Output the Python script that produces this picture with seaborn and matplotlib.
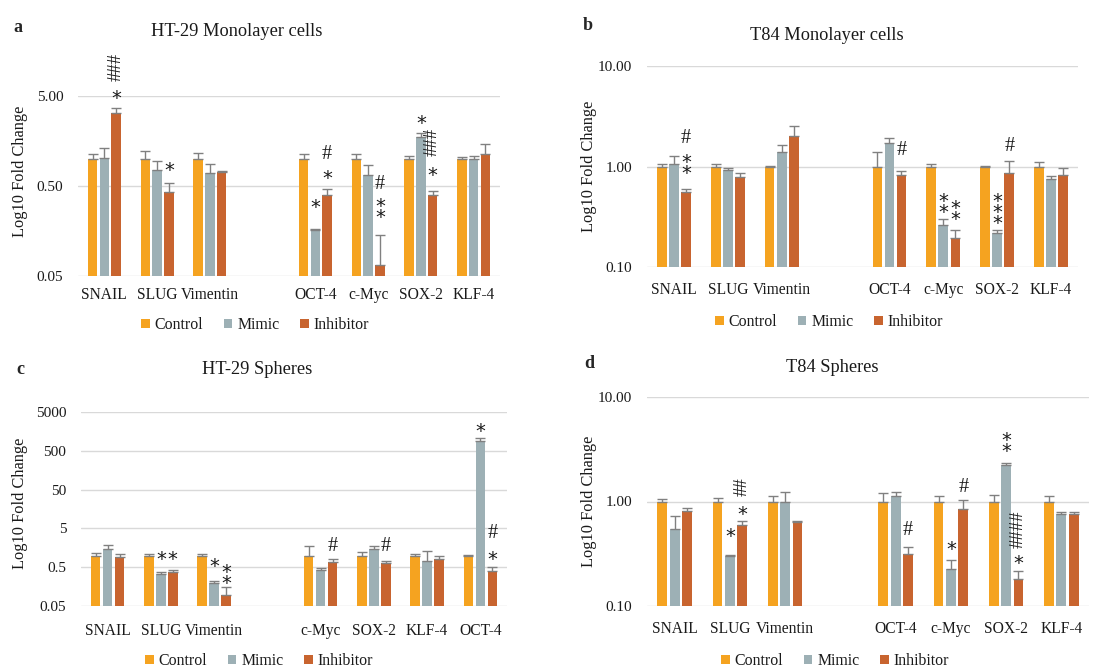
import numpy as np
import pandas as pd
import matplotlib
matplotlib.use("Agg")
import matplotlib.pyplot as plt
from matplotlib.ticker import FixedLocator, FixedFormatter, NullLocator
import seaborn as sns

GROUPS = ["Control", "Mimic", "Inhibitor"]
COLORS = ["#F5A320", "#9DB0B5", "#C8642F"]

# ---------------- Panel a: HT-29 Monolayer cells ----------------
A_GENES = ["SNAIL", "SLUG", "Vimentin", "OCT-4", "c-Myc", "SOX-2", "KLF-4"]
A_ORDER = ["SNAIL", "SLUG", "Vimentin", " ", "OCT-4", "c-Myc", "SOX-2", "KLF-4"]
A_CONTROL = [1.0, 1.0, 1.0, 1.0, 1.0, 1.0, 1.0]
A_MIMIC = [1.03, 0.75, 0.70, 0.162, 0.67, 1.75, 1.0]
A_INHIB = [3.27, 0.43, 0.72, 0.40, 0.067, 0.40, 1.14]
A_CONTROL_ERR = [0.12, 0.22, 0.17, 0.12, 0.12, 0.09, 0.06]
A_MIMIC_ERR = [0.30, 0.21, 0.17, 0.003, 0.18, 0.17, 0.08]
A_INHIB_ERR = [0.44, 0.11, 0.02, 0.06, 0.075, 0.036, 0.32]
A_ANNOT = [("SNAIL", "Inhibitor", "*", 5.36), ("SNAIL", "Inhibitor", "###", 10.6),
           ("SLUG", "Inhibitor", "*", 0.855),
           ("OCT-4", "Mimic", "*", 0.335), ("OCT-4", "Inhibitor", "*", 0.69),
           ("OCT-4", "Inhibitor", "#", 1.15),
           ("c-Myc", "Inhibitor", "#", 0.545), ("c-Myc", "Inhibitor", "**", 0.295),
           ("SOX-2", "Mimic", "*", 2.82), ("SOX-2", "Inhibitor", "###", 1.55),
           ("SOX-2", "Inhibitor", "*", 0.75)]

# ---------------- Panel b: T84 Monolayer cells ----------------
B_GENES = ["SNAIL", "SLUG", "Vimentin", "OCT-4", "c-Myc", "SOX-2", "KLF-4"]
B_ORDER = ["SNAIL", "SLUG", "Vimentin", " ", "OCT-4", "c-Myc", "SOX-2", "KLF-4"]
B_CONTROL = [1.0, 1.0, 1.0, 1.0, 1.0, 1.0, 1.0]
B_MIMIC = [1.05, 0.93, 1.38, 1.71, 0.263, 0.219, 0.75]
B_INHIB = [0.56, 0.78, 2.02, 0.83, 0.193, 0.87, 0.82]
B_CONTROL_ERR = [0.07, 0.07, 0.02, 0.41, 0.06, 0.01, 0.10]
B_MIMIC_ERR = [0.21, 0.03, 0.24, 0.22, 0.037, 0.014, 0.06]
B_INHIB_ERR = [0.04, 0.08, 0.51, 0.08, 0.042, 0.26, 0.14]
B_ANNOT = [("SNAIL", "Inhibitor", "#", 1.95), ("SNAIL", "Inhibitor", "**", 1.09),
           ("OCT-4", "Inhibitor", "#", 1.49),
           ("c-Myc", "Mimic", "**", 0.449), ("c-Myc", "Inhibitor", "**", 0.383),
           ("SOX-2", "Mimic", "***", 0.394), ("SOX-2", "Inhibitor", "#", 1.64)]

# ---------------- Panel c: HT-29 Spheres ----------------
C_GENES = ["SNAIL", "SLUG", "Vimentin", "c-Myc", "SOX-2", "KLF-4", "OCT-4"]
C_ORDER = ["SNAIL", "SLUG", "Vimentin", " ", "c-Myc", "SOX-2", "KLF-4", "OCT-4"]
C_CONTROL = [1.0, 1.0, 1.0, 1.0, 1.0, 1.0, 1.0]
C_MIMIC = [1.46, 0.34, 0.198, 0.42, 1.46, 0.74, 870.0]
C_INHIB = [0.92, 0.37, 0.094, 0.70, 0.63, 0.80, 0.39]
C_CONTROL_ERR = [0.14, 0.10, 0.10, 0.80, 0.23, 0.11, 0.05]
C_MIMIC_ERR = [0.37, 0.03, 0.022, 0.06, 0.34, 0.57, 230.0]
C_INHIB_ERR = [0.18, 0.05, 0.059, 0.12, 0.09, 0.20, 0.13]
C_ANNOT = [("SLUG", "Mimic", "*", 1.10), ("SLUG", "Inhibitor", "*", 1.10),
           ("Vimentin", "Mimic", "*", 0.74), ("Vimentin", "Inhibitor", "**", 0.372),
           ("c-Myc", "Inhibitor", "#", 1.87), ("SOX-2", "Inhibitor", "#", 1.87),
           ("OCT-4", "Mimic", "*", 2230.0), ("OCT-4", "Inhibitor", "#", 4.11),
           ("OCT-4", "Inhibitor", "*", 1.10)]

# ---------------- Panel d: T84 Spheres ----------------
D_GENES = ["SNAIL", "SLUG", "Vimentin", "OCT-4", "c-Myc", "SOX-2", "KLF-4"]
D_ORDER = ["SNAIL", "SLUG", "Vimentin", " ", "OCT-4", "c-Myc", "SOX-2", "KLF-4"]
D_CONTROL = [1.0, 1.0, 1.0, 1.0, 1.0, 1.0, 1.0]
D_MIMIC = [0.54, 0.30, 1.0, 1.12, 0.226, 2.24, 0.76]
D_INHIB = [0.81, 0.60, 0.64, 0.315, 0.84, 0.18, 0.76]
D_CONTROL_ERR = [0.06, 0.08, 0.14, 0.20, 0.12, 0.16, 0.12]
D_MIMIC_ERR = [0.19, 0.005, 0.22, 0.10, 0.051, 0.10, 0.03]
D_INHIB_ERR = [0.06, 0.05, 0.005, 0.055, 0.20, 0.035, 0.03]
D_ANNOT = [("SLUG", "Mimic", "*", 0.518), ("SLUG", "Inhibitor", "*", 0.854),
           ("SLUG", "Inhibitor", "##", 1.38),
           ("OCT-4", "Inhibitor", "#", 0.546),
           ("c-Myc", "Mimic", "*", 0.395), ("c-Myc", "Inhibitor", "#", 1.40),
           ("SOX-2", "Mimic", "**", 3.82), ("SOX-2", "Inhibitor", "####", 0.546),
           ("SOX-2", "Inhibitor", "*", 0.288)]

sns.set_style("white")
plt.rcParams["font.family"] = ["Liberation Serif", "DejaVu Serif"]

W, H = 1118, 667
fig = plt.figure(figsize=(W / 100, H / 100), dpi=100)


def build_df(genes, ctrl, mim, inh, ce, me, ie):
    rows = []
    for g, vals, errs in zip(GROUPS, [ctrl, mim, inh], [ce, me, ie]):
        for gene, v, e in zip(genes, vals, errs):
            rows.append(dict(gene=gene, group=g, value=v, err=e))
    return pd.DataFrame(rows)


def px_rect(left, right, top, bottom):
    return [left / W, 1 - bottom / H, (right - left) / W, (bottom - top) / H]


def draw_panel(rect, df, order, ylim, ticks, ticklabels, title, title_px,
               letter, letter_px, legend_px, ylabel_xy, xpad, annots):
    ax = fig.add_axes(rect)
    sns.barplot(data=df, x="gene", y="value", hue="group", order=order,
                hue_order=GROUPS, palette=COLORS, errorbar=None, width=0.67,
                gap=0.2, saturation=1, linewidth=0, log_scale=True, ax=ax)
    ax.set_yscale("log")
    ax.set_ylim(*ylim)
    ax.yaxis.set_major_locator(FixedLocator(ticks))
    ax.yaxis.set_major_formatter(FixedFormatter(ticklabels))
    ax.yaxis.set_minor_locator(NullLocator())
    ax.grid(axis="y", color="#d9d9d9", linewidth=1.0)
    ax.grid(axis="x", visible=False)
    ax.set_axisbelow(True)
    for s in ax.spines.values():
        s.set_visible(False)
    ax.tick_params(axis="both", length=0, labelsize=11, labelcolor="#1a1a1a")
    ax.tick_params(axis="y", pad=10.5)
    ax.tick_params(axis="x", pad=xpad, labelsize=11.2)
    ax.set_xlim(-0.5, len(order) - 0.5)
    ax.set_xlabel("")
    ax.set_ylabel("Log10 Fold Change", fontsize=11.8, color="#1a1a1a")
    ax.yaxis.set_label_coords(*ylabel_xy)

    # error bars (upper only) from bar geometry
    pos = {}
    for gi, cont in enumerate(ax.containers[:3]):
        grp = GROUPS[gi]
        xs, vs, es = [], [], []
        for p in cont.patches:
            xc = p.get_x() + p.get_width() / 2
            gene = order[int(round(xc))]
            row = df[(df.gene == gene) & (df.group == grp)].iloc[0]
            pos[(gene, grp)] = xc
            xs.append(xc); vs.append(row.value); es.append(row.err)
        ax.errorbar(xs, vs, yerr=[np.zeros(len(es)), es], fmt="none",
                    ecolor="#808080", elinewidth=1.0, capsize=3.3, capthick=1.0,
                    zorder=3)

    for gene, grp, txt, yv in annots:
        x = pos[(gene, grp)]
        if "#" in txt:
            if len(txt) > 1:
                ax.annotate(txt, (x, yv), xytext=(0, 0), textcoords="offset points",
                            ha="center", va="center", rotation=90, fontsize=13.5,
                            color="#1a1a1a", annotation_clip=False)
            else:
                ax.annotate(txt, (x, yv), xytext=(0, -1), textcoords="offset points",
                            ha="center", va="center", fontsize=14.5,
                            color="#1a1a1a", annotation_clip=False)
        else:
            stacked = "\n".join(list(txt))
            ax.annotate(stacked, (x, yv), xytext=(0, -4), textcoords="offset points",
                        ha="center", va="center", fontsize=14, linespacing=0.45,
                        family="DejaVu Sans", color="#1a1a1a",
                        annotation_clip=False)

    handles, labels = ax.get_legend_handles_labels()
    if ax.legend_ is not None:
        ax.legend_.remove()
    leg = fig.legend(handles[:3], labels[:3], loc="center",
                     bbox_to_anchor=(legend_px[0] / W, 1 - legend_px[1] / H), ncol=3,
                     frameon=False, fontsize=11.4, handlelength=0.55,
                     handleheight=0.55, handletextpad=0.3, columnspacing=1.3)
    for t in leg.get_texts():
        t.set_color("#1a1a1a")

    fig.text(title_px[0] / W, 1 - title_px[1] / H, title, ha="center", va="center",
             fontsize=13.2, color="#1a1a1a")
    fig.text(letter_px[0] / W, 1 - letter_px[1] / H, letter, ha="center",
             va="center", fontsize=13, fontweight="bold")
    return ax


dfa = build_df(A_GENES, A_CONTROL, A_MIMIC, A_INHIB, A_CONTROL_ERR, A_MIMIC_ERR, A_INHIB_ERR)
dfb = build_df(B_GENES, B_CONTROL, B_MIMIC, B_INHIB, B_CONTROL_ERR, B_MIMIC_ERR, B_INHIB_ERR)
dfc = build_df(C_GENES, C_CONTROL, C_MIMIC, C_INHIB, C_CONTROL_ERR, C_MIMIC_ERR, C_INHIB_ERR)
dfd = build_df(D_GENES, D_CONTROL, D_MIMIC, D_INHIB, D_CONTROL_ERR, D_MIMIC_ERR, D_INHIB_ERR)

draw_panel(px_rect(78, 500, 96, 276), dfa, A_ORDER, (0.05, 5.0),
           [0.05, 0.5, 5.0], ["0.05", "0.50", "5.00"], "HT-29 Monolayer cells",
           (237, 32), "a", (18, 27), (255, 325), (-0.118, 0.58), 8, A_ANNOT)
draw_panel(px_rect(647, 1078, 66, 267), dfb, B_ORDER, (0.1, 10.0),
           [0.1, 1.0, 10.0], ["0.10", "1.00", "10.00"], "T84 Monolayer cells",
           (827, 36), "b", (588, 26), (829, 322), (-0.116, 0.5), 11, B_ANNOT)
draw_panel(px_rect(81, 507, 412, 606), dfc, C_ORDER, (0.05, 5000.0),
           [0.05, 0.5, 5, 50, 500, 5000], ["0.05", "0.5", "5", "50", "500", "5000"],
           "HT-29 Spheres", (257, 370), "c", (20, 369), (259, 661), (-0.124, 0.53),
           12, C_ANNOT)
draw_panel(px_rect(647, 1089, 397, 606), dfd, D_ORDER, (0.1, 10.0),
           [0.1, 1.0, 10.0], ["0.10", "1.00", "10.00"], "T84 Spheres",
           (832, 367), "d", (589, 363), (835, 661), (-0.113, 0.5), 10.5, D_ANNOT)

fig.savefig("out.png", dpi=100)
